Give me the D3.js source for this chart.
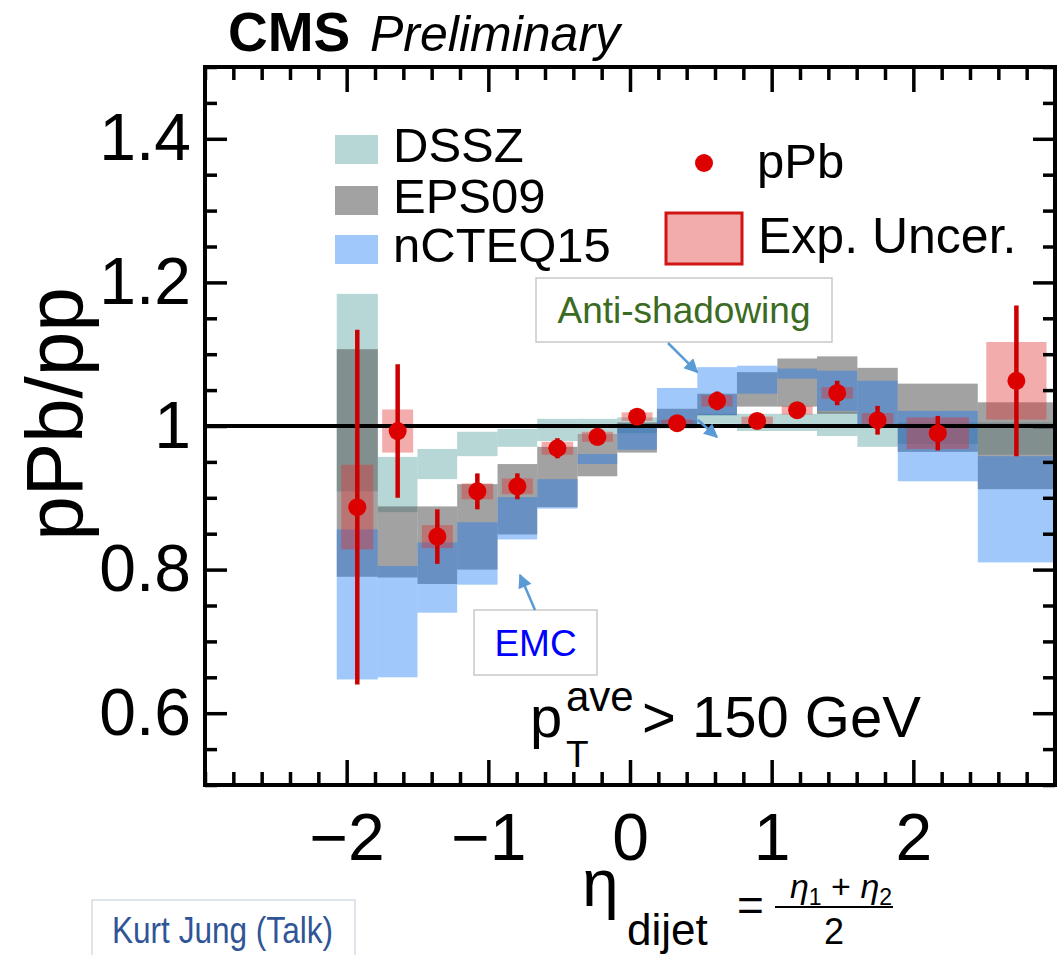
<!DOCTYPE html>
<html>
<head>
<meta charset="utf-8">
<script src="https://cdn.jsdelivr.net/npm/d3@7/dist/d3.min.js"></script>
<style>
  html, body { margin: 0; padding: 0; background: #fff; }
  svg { display: block; }
  text { font-family: "Liberation Sans", Arial, Helvetica, sans-serif; }
</style>
</head>
<body>
<svg id="chart" width="1057" height="955"></svg>
<script>
// ---- data -------------------------------------------------------------
// eta_dijet bin edges
const binEdges = [-2.07, -1.78, -1.50, -1.22, -0.935, -0.655, -0.37, -0.09,
                  0.19, 0.475, 0.755, 1.04, 1.32, 1.605, 1.89, 2.455, 3.0];

// measured pPb/pp ratio, statistical and experimental (systematic) uncertainties
const pPbRatio = [0.887, 0.993, 0.846, 0.909, 0.916, 0.969, 0.985, 1.013,
                  1.004, 1.035, 1.007, 1.022, 1.046, 1.008, 0.990, 1.063];
const statErr  = [0.247, 0.093, 0.038, 0.025, 0.018, 0.014, 0.012, 0.010,
                  0.008, 0.013, 0.010, 0.010, 0.017, 0.020, 0.024, 0.105];
const expErr   = [0.059, 0.030, 0.016, 0.011, 0.011, 0.009, 0.007, 0.006,
                  0.005, 0.008, 0.006, 0.006, 0.008, 0.010, 0.022, 0.054];

// nPDF predictions (lower / upper edge of each band)
const dsszLo  = [0.909, 0.880, 0.926, 0.958, 0.971, 0.979, 0.989, 0.990,
                 0.998, 1.003, 0.993, 0.993, 0.986, 0.971, 0.975, 0.960];
const dsszHi  = [1.184, 0.957, 0.968, 0.992, 0.996, 1.010, 1.010, 1.012,
                 1.008, 1.017, 1.017, 1.017, 1.020, 1.000, 1.005, 1.005];
const eps09Lo = [0.790, 0.789, 0.780, 0.800, 0.849, 0.887, 0.930, 0.963,
                 0.997, 1.015, 1.027, 1.027, 1.017, 1.000, 0.964, 0.912];
const eps09Hi = [1.107, 0.888, 0.888, 0.919, 0.947, 0.971, 0.989, 1.005,
                 1.024, 1.045, 1.075, 1.094, 1.097, 1.081, 1.059, 1.033];
const ncteqLo = [0.647, 0.650, 0.740, 0.779, 0.842, 0.885, 0.947, 0.967,
                 0.997, 1.015, 1.045, 1.066, 1.021, 0.998, 0.923, 0.810];
const ncteqHi = [0.856, 0.805, 0.838, 0.866, 0.901, 0.926, 0.961, 1.003,
                 1.053, 1.082, 1.084, 1.080, 1.077, 1.063, 1.021, 0.958];

const seriesNames = ["DSSZ", "EPS09", "nCTEQ15"];
const xTicks = [-2, -1, 0, 1, 2];
const xTickLabels = ["\u22122", "\u22121", "0", "1", "2"];
const yTicks = [0.6, 0.8, 1, 1.2, 1.4];
const yTickLabels = ["0.6", "0.8", "1", "1.2", "1.4"];

// ---- layout & style ---------------------------------------------------
const frame = { left: 205, right: 1055, top: 67, bottom: 785 };
const bandStyle = {
  DSSZ:    { fill: "#5fa3a3", opacity: 0.45 },
  EPS09:   { fill: "#555555", opacity: 0.55 },
  nCTEQ15: { fill: "#1175f2", opacity: 0.40 }
};
const expFill = "#e23030", expOpacity = 0.40, expStroke = "#d01515";
const pointColor = "#dd0000", barColor = "#cc0000";
const arrowColor = "#5b9bd5";

const svg = d3.select("#chart");

const x = d3.scaleLinear().domain([-3, 3]).range([frame.left, frame.right]);
const y = d3.scaleLinear().domain([0.5, 1.5]).range([frame.bottom, frame.top]);

const bins = pPbRatio.map((v, i) => ({
  x0: binEdges[i], x1: binEdges[i + 1], xc: (binEdges[i] + binEdges[i + 1]) / 2,
  v, stat: statErr[i], exp: expErr[i]
}));

const defs = svg.append("defs");
defs.append("clipPath").attr("id", "plotClip")
  .append("rect")
  .attr("x", frame.left).attr("y", frame.top)
  .attr("width", frame.right - frame.left).attr("height", frame.bottom - frame.top);

const plot = svg.append("g").attr("clip-path", "url(#plotClip)");

// prediction bands
const bands = [
  { name: "DSSZ", lo: dsszLo, hi: dsszHi },
  { name: "EPS09", lo: eps09Lo, hi: eps09Hi },
  { name: "nCTEQ15", lo: ncteqLo, hi: ncteqHi }
];
bands.forEach(b => {
  const st = bandStyle[b.name];
  plot.append("g").attr("class", "band-" + b.name)
    .selectAll("rect").data(bins).join("rect")
    .attr("x", d => x(d.x0))
    .attr("width", d => x(d.x1) - x(d.x0))
    .attr("y", (d, i) => y(b.hi[i]))
    .attr("height", (d, i) => y(b.lo[i]) - y(b.hi[i]))
    .attr("fill", st.fill)
    .attr("fill-opacity", st.opacity);
});

// experimental uncertainty boxes
const boxFrac = 0.78;
plot.append("g").selectAll("rect").data(bins).join("rect")
  .attr("x", d => x(d.xc) - boxFrac * (x(d.x1) - x(d.x0)) / 2)
  .attr("width", d => boxFrac * (x(d.x1) - x(d.x0)))
  .attr("y", d => y(d.v + d.exp))
  .attr("height", d => y(d.v - d.exp) - y(d.v + d.exp))
  .attr("fill", expFill).attr("fill-opacity", expOpacity);

// unity line
plot.append("line")
  .attr("x1", x(-3)).attr("x2", x(3))
  .attr("y1", y(1)).attr("y2", y(1))
  .attr("stroke", "#000").attr("stroke-width", 4);

// statistical error bars and points
plot.append("g").selectAll("line").data(bins).join("line")
  .attr("x1", d => x(d.xc)).attr("x2", d => x(d.xc))
  .attr("y1", d => y(d.v + d.stat)).attr("y2", d => y(d.v - d.stat))
  .attr("stroke", barColor).attr("stroke-width", 4.5);
plot.append("g").selectAll("circle").data(bins).join("circle")
  .attr("cx", d => x(d.xc)).attr("cy", d => y(d.v)).attr("r", 9)
  .attr("fill", pointColor);

// ---- axes (ticks inward on all four sides) ---------------------------
const xMinor = d3.range(-3, 3.0001, 0.2).map(v => +v.toFixed(2))
  .filter(v => !xTicks.some(t => Math.abs(t - v) < 1e-6));
const yMinor = d3.range(0.5, 1.5001, 0.05).map(v => +v.toFixed(2))
  .filter(v => !yTicks.some(t => Math.abs(t - v) < 1e-6));

function styleAxis(g, fontSize) {
  g.select(".domain").remove();
  g.selectAll(".tick line").attr("stroke", "#000").attr("stroke-width", 3.5);
  g.attr("font-family", "'Liberation Sans', Arial, Helvetica, sans-serif")
   .attr("font-size", fontSize);
  g.selectAll(".tick text").attr("fill", "#000");
}

svg.append("g").attr("transform", `translate(0,${frame.bottom})`)
  .call(d3.axisBottom(x).tickValues(xTicks).tickSize(-25).tickPadding(28)
        .tickFormat((d, i) => xTickLabels[i]))
  .call(g => styleAxis(g, 66));
svg.append("g").attr("transform", `translate(0,${frame.bottom})`)
  .call(d3.axisBottom(x).tickValues(xMinor).tickSize(-13).tickFormat(""))
  .call(g => styleAxis(g, 10));
svg.append("g").attr("transform", `translate(0,${frame.top})`)
  .call(d3.axisTop(x).tickValues(xTicks).tickSize(-25).tickFormat(""))
  .call(g => styleAxis(g, 10));
svg.append("g").attr("transform", `translate(0,${frame.top})`)
  .call(d3.axisTop(x).tickValues(xMinor).tickSize(-13).tickFormat(""))
  .call(g => styleAxis(g, 10));

svg.append("g").attr("transform", `translate(${frame.left},0)`)
  .call(d3.axisLeft(y).tickValues(yTicks).tickSize(-22).tickPadding(14)
        .tickFormat((d, i) => yTickLabels[i]))
  .call(g => styleAxis(g, 66));
svg.append("g").attr("transform", `translate(${frame.left},0)`)
  .call(d3.axisLeft(y).tickValues(yMinor).tickSize(-12).tickFormat(""))
  .call(g => styleAxis(g, 10));
svg.append("g").attr("transform", `translate(${frame.right},0)`)
  .call(d3.axisRight(y).tickValues(yTicks).tickSize(-22).tickFormat(""))
  .call(g => styleAxis(g, 10));
svg.append("g").attr("transform", `translate(${frame.right},0)`)
  .call(d3.axisRight(y).tickValues(yMinor).tickSize(-12).tickFormat(""))
  .call(g => styleAxis(g, 10));

// frame
svg.append("rect")
  .attr("x", frame.left).attr("y", frame.top)
  .attr("width", frame.right - frame.left).attr("height", frame.bottom - frame.top)
  .attr("fill", "none").attr("stroke", "#000").attr("stroke-width", 4);

// ---- titles -----------------------------------------------------------
svg.append("text")
  .attr("transform", "translate(82,414) rotate(-90)")
  .attr("text-anchor", "middle").attr("font-size", 80).attr("fill", "#000")
  .text("pPb/pp");

svg.append("text").attr("x", 228).attr("y", 51).attr("font-size", 55)
  .attr("font-weight", "bold").attr("fill", "#000").text("CMS");
svg.append("text").attr("x", 370).attr("y", 51).attr("font-size", 50)
  .attr("font-style", "italic").attr("fill", "#000").text("Preliminary");

// x title: eta_dijet = (eta1 + eta2)/2
svg.append("text").attr("x", 582).attr("y", 906)
  .attr("font-family", "'DejaVu Sans', sans-serif").attr("font-size", 66).attr("fill", "#000")
  .text("\u03b7");
svg.append("text").attr("x", 627).attr("y", 945).attr("font-size", 44).attr("fill", "#000")
  .text("dijet");
svg.append("text").attr("x", 737).attr("y", 921)
  .attr("font-family", "'Liberation Serif', 'DejaVu Serif', serif").attr("font-size", 46).attr("fill", "#000")
  .text("=");
const num = svg.append("text").attr("x", 841).attr("y", 898).attr("text-anchor", "middle")
  .attr("font-family", "'Liberation Serif', 'DejaVu Serif', serif").attr("font-size", 34).attr("fill", "#000");
num.append("tspan").attr("font-style", "italic").text("\u03b7");
num.append("tspan").attr("font-size", 23).attr("dy", 7).text("1");
num.append("tspan").attr("dy", -7).text(" + ");
num.append("tspan").attr("font-style", "italic").text("\u03b7");
num.append("tspan").attr("font-size", 23).attr("dy", 7).text("2");
svg.append("line").attr("x1", 775).attr("x2", 893).attr("y1", 907).attr("y2", 907)
  .attr("stroke", "#000").attr("stroke-width", 2);
svg.append("text").attr("x", 834).attr("y", 944).attr("text-anchor", "middle")
  .attr("font-family", "'Liberation Serif', 'DejaVu Serif', serif").attr("font-size", 36).attr("fill", "#000")
  .text("2");

// ---- legend -----------------------------------------------------------
const legRows = [162, 213, 262];
seriesNames.forEach((name, i) => {
  const st = bandStyle[name];
  svg.append("rect").attr("x", 335).attr("y", legRows[i] - 27).attr("width", 43).attr("height", 29)
    .attr("fill", st.fill).attr("fill-opacity", st.opacity);
  svg.append("text").attr("x", 393).attr("y", legRows[i]).attr("font-size", 49).attr("fill", "#000")
    .text(name);
});
svg.append("circle").attr("cx", 704).attr("cy", 163).attr("r", 9).attr("fill", pointColor);
svg.append("text").attr("x", 757).attr("y", 178).attr("font-size", 49).attr("fill", "#000").text("pPb");
svg.append("rect").attr("x", 666).attr("y", 213).attr("width", 76).attr("height", 51)
  .attr("fill", expFill).attr("fill-opacity", expOpacity)
  .attr("stroke", expStroke).attr("stroke-width", 3);
svg.append("text").attr("x", 758).attr("y", 253).attr("font-size", 50).attr("fill", "#000").text("Exp. Uncer.");

// kinematic selection
svg.append("text").attr("x", 530).attr("y", 737).attr("font-size", 58).attr("fill", "#000").text("p");
svg.append("text").attr("x", 566).attr("y", 711).attr("font-size", 42).attr("fill", "#000").text("ave");
svg.append("text").attr("x", 566).attr("y", 767).attr("font-size", 37).attr("fill", "#000").text("T");
svg.append("text").attr("x", 642).attr("y", 737).attr("font-size", 58).attr("fill", "#000").text("> 150 GeV");

// ---- annotations --------------------------------------------------------
defs.append("marker").attr("id", "arrowHead")
  .attr("viewBox", "0 0 10 10").attr("refX", 9).attr("refY", 5)
  .attr("markerUnits", "userSpaceOnUse").attr("markerWidth", 16).attr("markerHeight", 14)
  .attr("orient", "auto")
  .append("path").attr("d", "M0,0 L10,5 L0,10 z").attr("fill", arrowColor);

function note(x0, y0, w, h, label, color) {
  svg.append("rect").attr("x", x0).attr("y", y0).attr("width", w).attr("height", h)
    .attr("fill", "#fff").attr("stroke", "#c9c9c9").attr("stroke-width", 1.5);
  svg.append("text").attr("x", x0 + w / 2).attr("y", y0 + h / 2 + 13)
    .attr("text-anchor", "middle").attr("font-size", 37).attr("fill", color).text(label);
}
function arrow(x1, y1, x2, y2) {
  svg.append("line").attr("x1", x1).attr("y1", y1).attr("x2", x2).attr("y2", y2)
    .attr("stroke", arrowColor).attr("stroke-width", 2.5).attr("marker-end", "url(#arrowHead)");
}
note(536, 278, 296, 64, "Anti-shadowing", "#3b6b22");
arrow(668, 343, x(0.475), y(1.075));
arrow(698, 420, 717, 437);
note(474, 610, 123, 65, "EMC", "#0000ff");
arrow(535, 610, 520, 575);

// source credit
svg.append("rect").attr("x", 92).attr("y", 900).attr("width", 263).attr("height", 70)
  .attr("fill", "#fff").attr("stroke", "#d6dce5").attr("stroke-width", 1.5);
svg.append("text").attr("x", 112).attr("y", 943)
  .attr("font-family", "'Liberation Sans Narrow', 'Arial Narrow', 'Liberation Sans', sans-serif")
  .attr("font-size", 37).attr("fill", "#2f5597")
  .attr("textLength", 221).attr("lengthAdjust", "spacingAndGlyphs")
  .text("Kurt Jung (Talk)");
</script>
</body>
</html>
